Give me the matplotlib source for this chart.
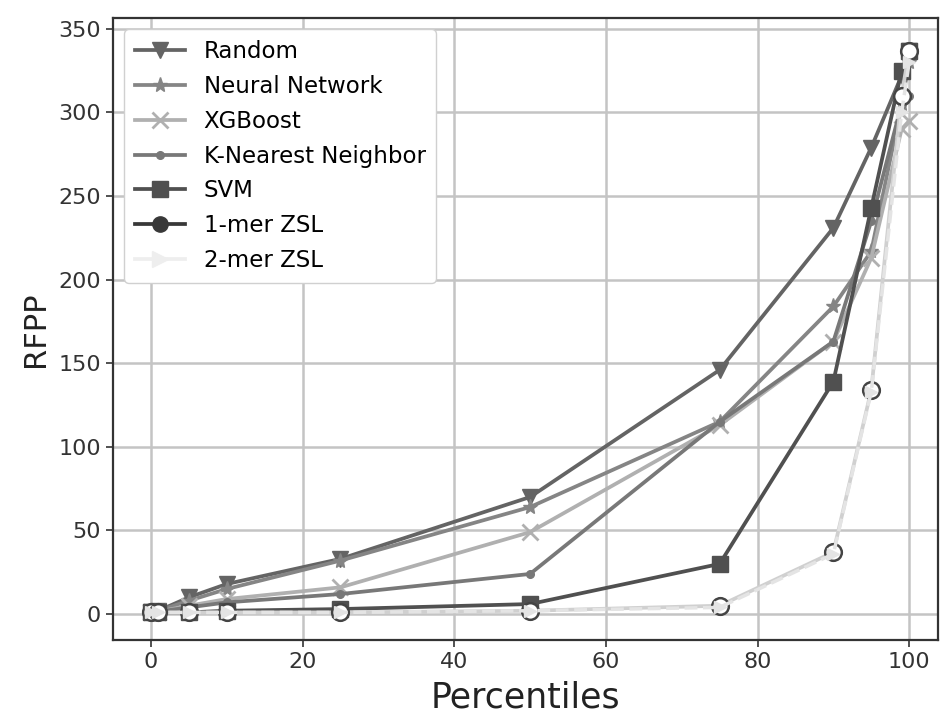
import matplotlib
matplotlib.use('Agg')
import matplotlib.pyplot as plt
from matplotlib.lines import Line2D

percentiles = [0, 1, 5, 10, 25, 50, 75, 90, 95, 99, 100]

random_rfpp = [1, 2, 10, 18, 33, 70, 146, 231, 279, 322, 337]
nn_rfpp = [1, 2, 8, 15, 32, 64, 115, 184, 217, 305, 330]
xgb_rfpp = [1, 1.5, 5, 9, 16, 49, 113, 163, 213, 290, 295]
knn_rfpp = [1, 1.5, 4, 7, 12, 24, 115, 163, 235, 305, 310]
svm_rfpp = [1, 1, 1, 2, 3, 6, 30, 139, 243, 325, 337]
zsl1_rfpp = [1, 1, 1, 1, 1, 2, 5, 37, 134, 310, 337]
zsl2_rfpp = [1, 1, 1, 1, 1, 2, 4, 36, 133, 300, 330]

names = ['Random', 'Neural Network', 'XGBoost', 'K-Nearest Neighbor',
         'SVM', '1-mer ZSL', '2-mer ZSL']


def making_graph():
    fig = plt.figure(figsize=(9.4, 7.18), dpi=100)
    ax = fig.add_axes([113 / 940, 1 - 640 / 718, 825 / 940, 622 / 718])

    ax.plot(percentiles, random_rfpp, color='#646464', lw=2.7,
            marker='v', ms=11)
    ax.plot(percentiles, nn_rfpp, color='#858585', lw=2.7,
            marker='*', ms=11)
    ax.plot(percentiles, xgb_rfpp, color='#b0b0b0', lw=2.7,
            marker='x', ms=11, mew=2)
    ax.plot(percentiles, knn_rfpp, color='#787878', lw=2.7,
            marker='.', ms=11)
    ax.plot(percentiles, svm_rfpp, color='#505050', lw=2.7,
            marker='s', ms=11)
    # the two ZSL curves come out pale in the figure, with hollow circles
    ax.plot(percentiles, zsl1_rfpp, color='#d0d0d0', lw=2.7,
            marker='o', ms=12, mfc='white', mec='#444444', mew=1.8, zorder=4)
    ax.plot(percentiles, zsl2_rfpp, color='#e4e4e4', lw=2.5, ls='--',
            marker='>', ms=8, zorder=5)

    handles = [
        Line2D([], [], color='#646464', lw=2.7, marker='v', ms=11),
        Line2D([], [], color='#858585', lw=2.7, marker='*', ms=11),
        Line2D([], [], color='#b0b0b0', lw=2.7, marker='x', ms=11, mew=2),
        Line2D([], [], color='#787878', lw=2.7, marker='.', ms=11),
        Line2D([], [], color='#505050', lw=2.7, marker='s', ms=11),
        Line2D([], [], color='#383838', lw=2.7, marker='o', ms=11),
        Line2D([], [], color='#eeeeee', lw=2.7, marker='>', ms=11),
    ]
    leg = ax.legend(handles, names, loc='upper left', fontsize=16.5,
                    handlelength=2.2, borderpad=0.45, labelspacing=0.52,
                    framealpha=1)
    leg.get_frame().set_edgecolor('#d0d0d0')

    ax.set_xlim(-5, 103.8)
    ax.set_ylim(-15.5, 356.5)
    ax.set_xticks([0, 20, 40, 60, 80, 100])
    ax.set_yticks(range(0, 351, 50))
    ax.grid(True, color='#c4c4c4', lw=1.8)
    ax.set_axisbelow(True)
    ax.tick_params(labelsize=16, colors='#333333', length=5, width=1.2)
    for s in ax.spines.values():
        s.set_color('#333333')
        s.set_linewidth(1.6)

    ax.set_xlabel('Percentiles', fontsize=25, color='#222222', labelpad=6)
    ax.set_ylabel('RFPP', fontsize=22, color='#222222', labelpad=6)
    fig.savefig('out.png', dpi=100)


def main():
    making_graph()


if __name__ == "__main__":
    main()
